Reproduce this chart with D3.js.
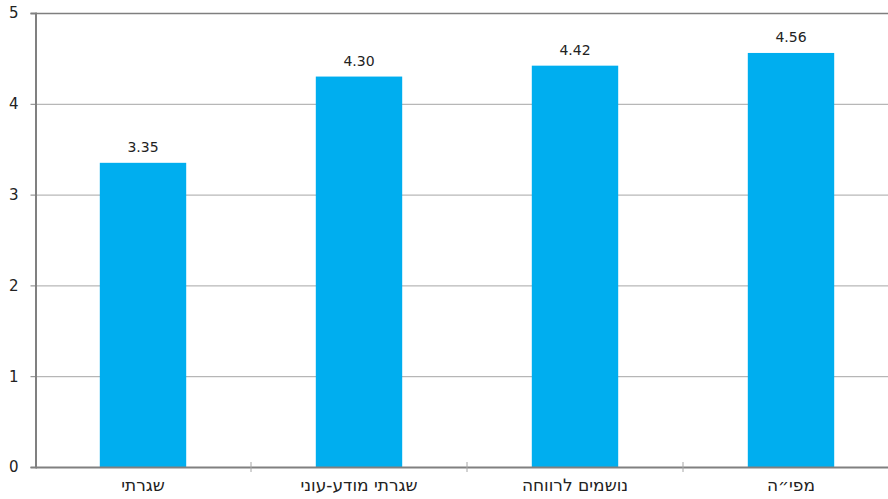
<!doctype html>
<html lang="he">
<head>
<meta charset="UTF-8">
<title>chart</title>
<style>
  body { margin: 0; background: #fff; }
  svg text { font-family: "DejaVu Sans", sans-serif; fill: #222; }
</style>
</head>
<body>
<div class="container"></div>
<script src="https://d3js.org/d3.v7.min.js"></script>
<script>
  const categories = ['שגרתי', 'שגרתי מודע-עוני', 'נושמים לרווחה', 'מפי״ה'];
  const values = [3.35, 4.30, 4.42, 4.56];
  const yTicks = [0, 1, 2, 3, 4, 5];

  const WIDTH = 888, HEIGHT = 499;
  const LEFT = 35, RIGHT = 899, TOP = 13, BOTTOM = 467;

  const svg = d3.select('.container').append('svg')
    .attr('width', WIDTH)
    .attr('height', HEIGHT);

  const x = d3.scaleBand()
    .domain(categories)
    .range([LEFT, RIGHT])
    .paddingInner(0.6)
    .paddingOuter(0.3);

  const y = d3.scaleLinear()
    .domain([0, 5])
    .range([BOTTOM, TOP]);

  // grid lines
  svg.append('g').selectAll('line')
    .data(yTicks.filter(d => d > 0))
    .join('line')
    .attr('x1', LEFT).attr('x2', WIDTH)
    .attr('y1', d => y(d) + 0.5).attr('y2', d => y(d) + 0.5)
    .attr('stroke', d => d === 5 ? '#7f7f7f' : '#a6a6a6')
    .attr('stroke-width', d => d === 5 ? 1.5 : 1);

  // bars
  svg.append('g').selectAll('rect')
    .data(values)
    .join('rect')
    .attr('x', (d, i) => x(categories[i]))
    .attr('width', x.bandwidth())
    .attr('y', d => y(d))
    .attr('height', d => BOTTOM - y(d))
    .attr('fill', '#00aeef');

  // value labels
  svg.append('g').selectAll('text')
    .data(values)
    .join('text')
    .attr('x', (d, i) => x(categories[i]) + x.bandwidth() / 2)
    .attr('y', d => y(d) - 11)
    .attr('text-anchor', 'middle')
    .style('font-size', '14px')
    .text(d => d.toFixed(2));

  // y axis
  const yAxis = d3.axisLeft(y).tickValues(yTicks).tickFormat(d3.format('d')).tickSize(5).tickPadding(12);
  const yg = svg.append('g')
    .attr('transform', `translate(${LEFT + 0.5},0)`)
    .call(yAxis);
  yg.select('.domain').attr('stroke', '#808080').attr('stroke-width', 2);
  yg.selectAll('.tick line').attr('stroke', '#808080');
  yg.selectAll('.tick text').style('font-size', '15px').attr('fill', '#222');

  // x axis with ticks at band boundaries
  const xAxis = d3.axisBottom(x).tickSize(0).tickPadding(12);
  const xg = svg.append('g')
    .attr('transform', `translate(0,${BOTTOM})`)
    .call(xAxis);
  xg.select('.domain').attr('stroke', '#808080').attr('stroke-width', 2);
  xg.selectAll('.tick text').style('font-size', '17px').attr('fill', '#222').attr('direction', 'rtl');

  const step = x.step();
  const bounds = categories.map((c, i) => x(c) - x.paddingInner() * step / 2).slice(1);
  xg.selectAll('.bound')
    .data(bounds)
    .join('line')
    .attr('class', 'bound')
    .attr('x1', d => d).attr('x2', d => d)
    .attr('y1', -5).attr('y2', 5)
    .attr('stroke', '#a6a6a6');
</script>
</body>
</html>
